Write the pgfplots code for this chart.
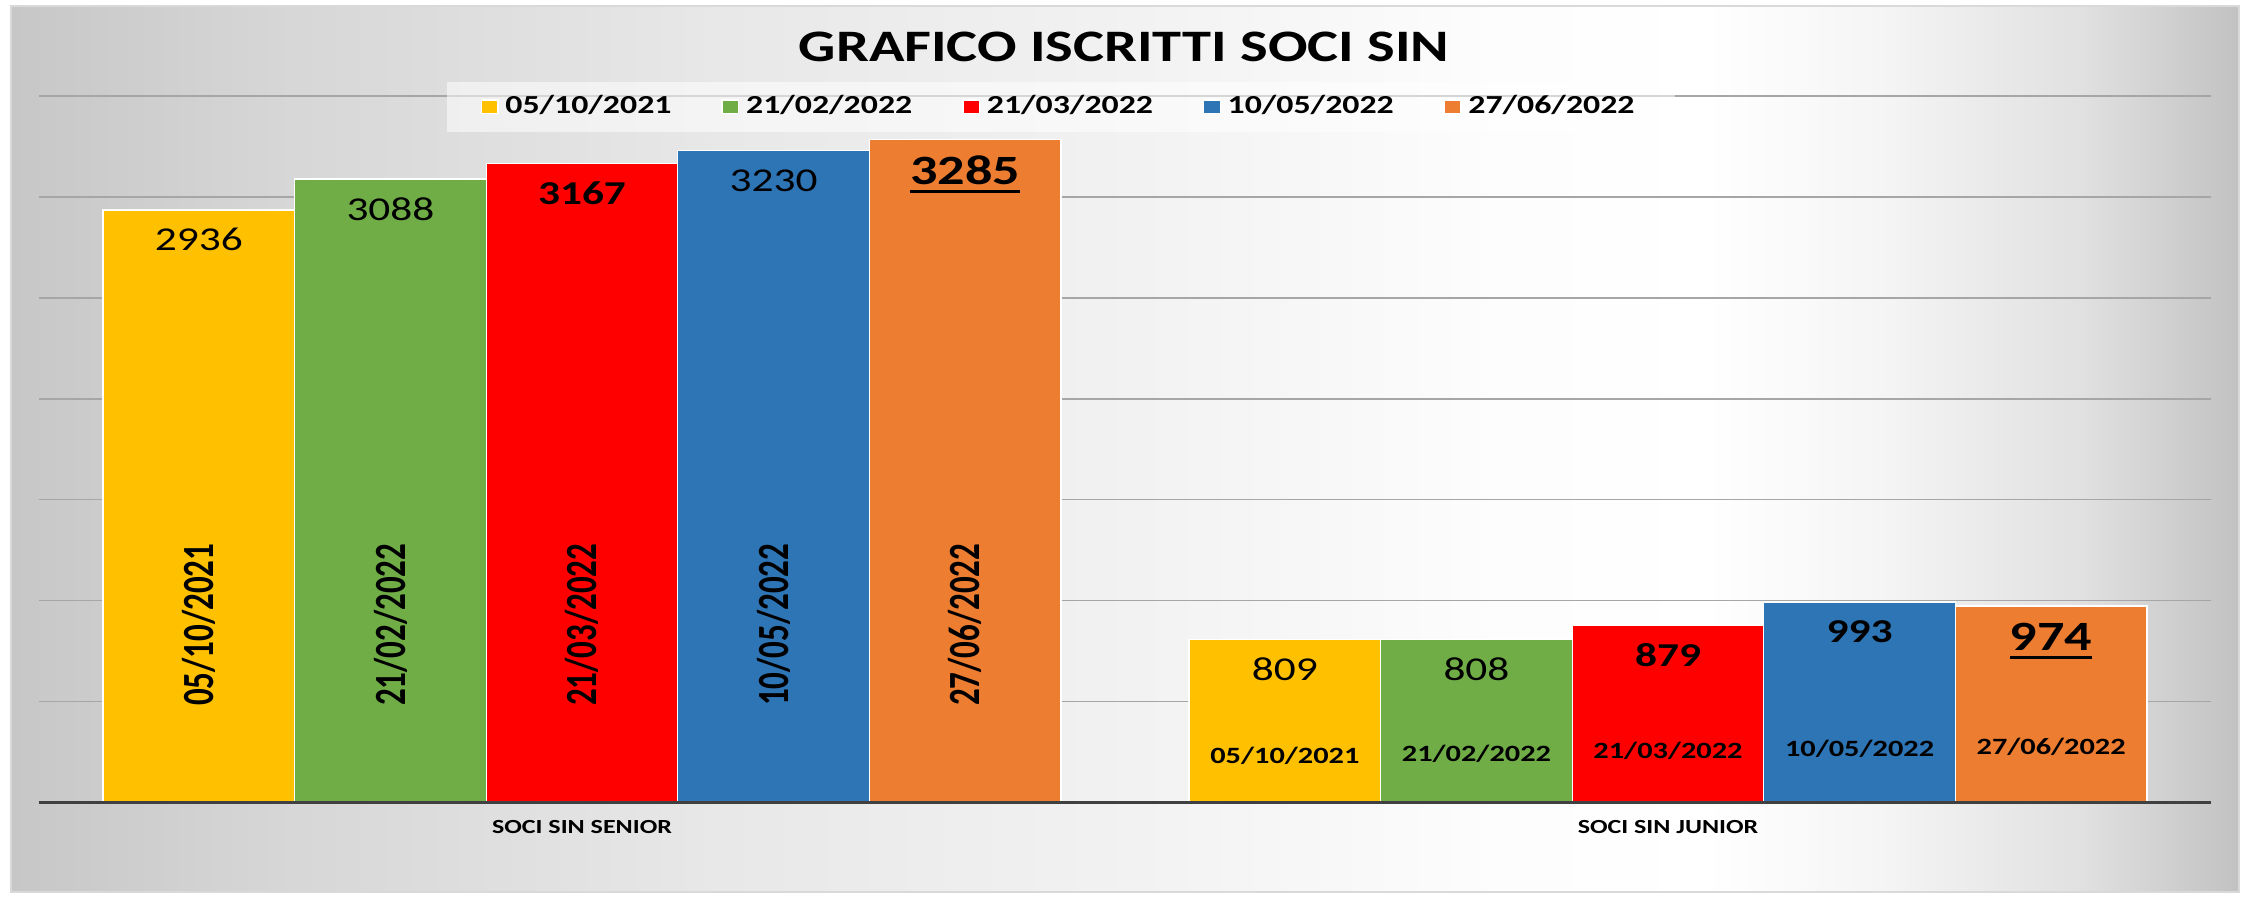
\documentclass[border=0pt]{standalone}
\usepackage{fontspec}
\setmainfont[FakeStretch=1.3]{Carlito}
\newfontfamily\plainfont{Carlito}
\usepackage{pgfplots}
\pgfplotsset{compat=1.18}

\definecolor{cYellow}{HTML}{FFC000}
\definecolor{cGreen}{HTML}{70AD47}
\definecolor{cRed}{HTML}{FF0000}
\definecolor{cBlue}{HTML}{2E75B6}
\definecolor{cOrange}{HTML}{ED7D31}
\definecolor{gridc}{HTML}{A6A6A6}
\definecolor{axisc}{HTML}{404040}

% background of the chart area: grey at the sides, white towards the right-centre
\pgfdeclarehorizontalshading{chartbg}{100bp}{%
  color(0bp)=(black!22); color(25bp)=(black!22); color(31bp)=(black!16);
  color(41bp)=(black!9); color(50.5bp)=(black!5); color(58bp)=(black!1);
  color(63bp)=(white); color(67bp)=(black!4); color(71.5bp)=(black!12);
  color(75bp)=(black!24); color(100bp)=(black!24)}

% thick underline for the last values
\NewDocumentCommand{\ulb}{m}{\leavevmode\setbox0=\hbox{#1}%
  \rlap{\raisebox{-2.4pt}{\rule{\wd0}{0.8pt}}}\box0}

\begin{document}
\begin{tikzpicture}
\useasboundingbox (0,0) rectangle (674.4pt,269.4pt);
\shade[shading=chartbg] (3.3pt,1.8pt) rectangle (671.7pt,267.6pt);
\draw[black!15, line width=0.4pt] (3.3pt,1.8pt) rectangle (671.7pt,267.6pt);
\node[font=\bfseries\fontsize{13.5}{16}\selectfont] at (337.2pt,255.3pt) {GRAFICO ISCRITTI SOCI SIN};

\begin{axis}[
    at={(11.7pt,28.65pt)}, anchor=south west,
    scale only axis, width=651.6pt, height=211.95pt,
    xmin=-0.5, xmax=1.5, ymin=0, ymax=3500,
    ybar, bar width=0.1764,
    ytick={0,500,...,3500}, yticklabels={},
    ymajorgrids, grid style={gridc, line width=0.45pt},
    xtick={0,1}, xticklabels={SOCI SIN SENIOR, SOCI SIN JUNIOR},
    xticklabel style={font=\bfseries\fontsize{6}{7}\selectfont, anchor=center, yshift=-7.35pt},
    axis line style={draw=none}, tick style={draw=none}, major tick length=0pt,
    nodes near coords, point meta=explicit symbolic,
    every node near coord/.append style={anchor=center, yshift=-9pt,
        font=\fontsize{10}{12}\selectfont, text=black},
    legend columns=5,
    legend image code/.code={\fill[#1, fill opacity=1] (0pt,-1.8pt) rectangle (5pt,2.2pt);},
    legend style={at={(0.4705,0.984)}, anchor=center, draw=none,
        fill=white, fill opacity=0.55, text opacity=1,
        font=\bfseries\fontsize{7.8}{9.4}\selectfont,
        inner xsep=10pt, inner ysep=2pt,
        /tikz/every even column/.append style={column sep=13pt}},
    clip=false,
]
\addplot[fill=cYellow, draw=white, line width=0.4pt, bar shift=-0.3528]
    coordinates {(0,2936) [2936] (1,809) [809]};
\addplot[fill=cGreen, draw=white, line width=0.4pt, bar shift=-0.1764]
    coordinates {(0,3088) [3088] (1,808) [808]};
\addplot[fill=cRed, draw=white, line width=0.4pt, bar shift=0]
    coordinates {(0,3167) [\textbf{3167}] (1,879) [\textbf{879}]};
\addplot[fill=cBlue, draw=white, line width=0.4pt, bar shift=0.1764]
    coordinates {(0,3230) [3230] (1,993) [\textbf{993}]};
\addplot[fill=cOrange, draw=white, line width=0.4pt, bar shift=0.3528,
    every node near coord/.append style={yshift=-1.5pt,
        font=\bfseries\fontsize{12.5}{15}\selectfont}]
    coordinates {(0,3285) [\ulb{3285}] (1,974) [\ulb{974}]};
\legend{05/10/2021, 21/02/2022, 21/03/2022, 10/05/2022, 27/06/2022}

% dates inside the senior bars
\begin{scope}[every node/.style={rotate=90, yscale=1.35,
    font=\plainfont\bfseries\fontsize{9.9}{12}\selectfont}]
\node at (axis cs:-0.3528,880) {05/10/2021};
\node at (axis cs:-0.1764,880) {21/02/2022};
\node at (axis cs:0,880) {21/03/2022};
\node at (axis cs:0.1764,880) {10/05/2022};
\node at (axis cs:0.3528,880) {27/06/2022};
\end{scope}
% dates inside the junior bars
\begin{scope}[every node/.style={font=\bfseries\fontsize{7}{8.4}\selectfont}]
\node at (axis cs:0.6472,230) {05/10/2021};
\node at (axis cs:0.8236,240) {21/02/2022};
\node at (axis cs:1,255) {21/03/2022};
\node at (axis cs:1.1764,265) {10/05/2022};
\node at (axis cs:1.3528,275) {27/06/2022};
\end{scope}
\draw[axisc, line width=0.9pt] (axis cs:-0.5,0) -- (axis cs:1.5,0);
\end{axis}
\end{tikzpicture}
\end{document}
